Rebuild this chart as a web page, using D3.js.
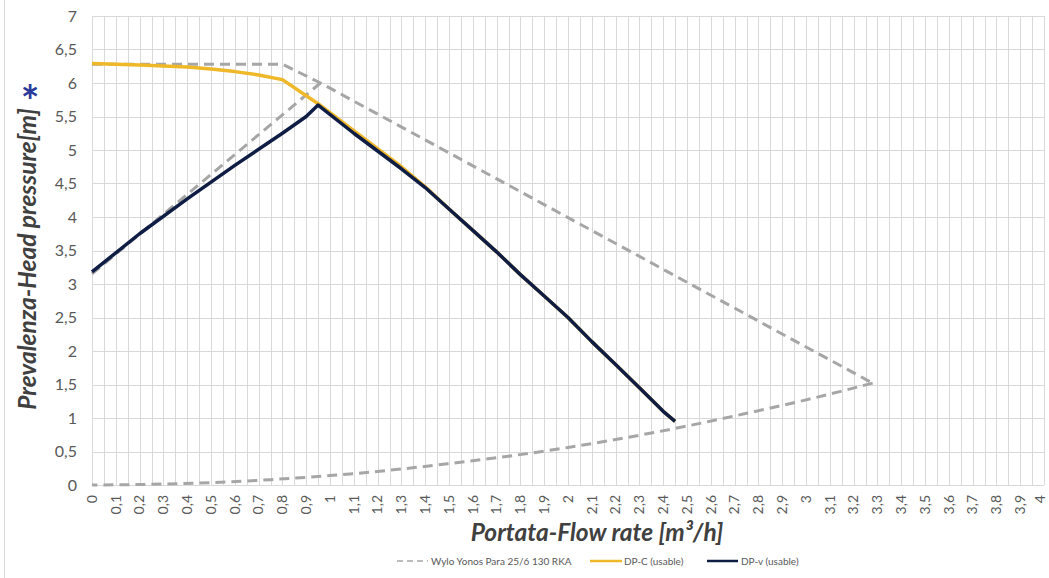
<!DOCTYPE html>
<html><head><meta charset="utf-8">
<script src="https://cdn.jsdelivr.net/npm/d3@7"></script>
<style>
body{margin:0;background:#fff;}
svg{display:block;font-family:Lato,"Open Sans",sans-serif;}
</style>
</head><body>
<svg id="chart" width="1049" height="578"></svg>
<script>
// ---- data ----
const xTickValues = [0,0.1,0.2,0.3,0.4,0.5,0.6,0.7,0.8,0.9,1,1.1,1.2,1.3,1.4,1.5,1.6,1.7,1.8,1.9,2,2.1,2.2,2.3,2.4,2.5,2.6,2.7,2.8,2.9,3,3.1,3.2,3.3,3.4,3.5,3.6,3.7,3.8,3.9,4];
const yTickValues = [0,0.5,1,1.5,2,2.5,3,3.5,4,4.5,5,5.5,6,6.5,7];

// Wylo Yonos Para 25/6 130 RKA (grey dashed) – max curve, min curve, dp-v limit
const pumpMaxX = [0, 0.8, 0.96, 3.28];
const pumpMaxY = [6.28, 6.28, 6.0, 1.52];
const pumpMinX = [3.28, 3.0, 2.75, 2.5, 2.25, 2.0, 1.75, 1.5, 1.25, 1.0, 0.75, 0.5, 0.25, 0];
const pumpMinY = [1.52, 1.27, 1.07, 0.88, 0.71, 0.56, 0.43, 0.32, 0.22, 0.14, 0.08, 0.035, 0.01, 0];
const pumpDpvX = [0, 0.96];
const pumpDpvY = [3.15, 6.0];

// DP-C (usable)
const dpcX = [0, 0.2, 0.4, 0.5, 0.6, 0.7, 0.8, 0.95, 1.3, 1.4, 1.5, 1.6, 1.7, 1.8, 1.9, 2.0, 2.1, 2.2, 2.3, 2.4, 2.45];
const dpcY = [6.29, 6.27, 6.24, 6.21, 6.17, 6.12, 6.05, 5.69, 4.75, 4.45, 4.12, 3.8, 3.48, 3.14, 2.82, 2.5, 2.14, 1.8, 1.45, 1.1, 0.95];

// DP-v (usable)
const dpvX = [0, 0.2, 0.4, 0.6, 0.8, 0.9, 0.95, 1.1, 1.3, 1.4, 1.5, 1.6, 1.7, 1.8, 1.9, 2.0, 2.1, 2.2, 2.3, 2.4, 2.45];
const dpvY = [3.18, 3.75, 4.27, 4.77, 5.25, 5.5, 5.67, 5.25, 4.72, 4.44, 4.12, 3.8, 3.48, 3.14, 2.82, 2.5, 2.14, 1.8, 1.45, 1.1, 0.95];

const legendLabels = ["Wylo Yonos Para 25/6 130 RKA", "DP-C (usable)", "DP-v (usable)"];
const xTitle = "Portata-Flow rate [m³/h]";
const yTitle = "Prevalenza-Head pressure[m]";

// ---- drawing ----
const svg = d3.select("#chart");
const pLeft = 92, pRight = 1044, pTop = 16, pBottom = 485;
const x = d3.scaleLinear().domain([0, 4]).range([pLeft, pRight]);
const y = d3.scaleLinear().domain([0, 7]).range([pBottom, pTop]);
const fmt = v => d3.format("")(v).replace(".", ",");
const grid = "#d9d9d9", txt = "#595959";
const grey = "#a6a6a6", gold = "#efb828", navy = "#0f1d45";

// chart border (left edge visible)
svg.append("line").attr("x1", 4.5).attr("x2", 4.5).attr("y1", 0).attr("y2", 578)
  .attr("stroke", "#d9d9d9").attr("stroke-width", 1);

// vertical gridlines every 0.05
const gx = svg.append("g");
gx.selectAll("line").data(x.ticks(80)).join("line")
  .attr("x1", d => Math.round(x(d)) + 0.5).attr("x2", d => Math.round(x(d)) + 0.5)
  .attr("y1", pTop).attr("y2", pBottom)
  .attr("stroke", grid).attr("stroke-width", 1);
// horizontal gridlines
const gy = svg.append("g");
gy.selectAll("line").data(yTickValues).join("line")
  .attr("x1", pLeft).attr("x2", pRight)
  .attr("y1", d => Math.round(y(d)) + 0.5).attr("y2", d => Math.round(y(d)) + 0.5)
  .attr("stroke", grid).attr("stroke-width", 1);

// y axis labels
const yAxis = d3.axisLeft(y).tickValues(yTickValues).tickFormat(fmt).tickSize(0).tickPadding(15);
const ya = svg.append("g").attr("transform", `translate(${pLeft},0)`).call(yAxis);
ya.select(".domain").remove();
ya.selectAll("text").attr("fill", txt).style("font-size", "16px").style("font-family", "Lato, sans-serif");

// x axis labels (rotated)
const xAxis = d3.axisBottom(x).tickValues(xTickValues).tickFormat(fmt).tickSize(0);
const xa = svg.append("g").attr("transform", `translate(0,${pBottom})`).call(xAxis);
xa.select(".domain").remove();
xa.selectAll("text")
  .attr("fill", txt).style("font-size", "14px").style("font-family", "Lato, sans-serif")
  .attr("transform", "rotate(-90)")
  .attr("text-anchor", "end")
  .attr("x", -10).attr("y", 0)
  .attr("dy", (d, i, n) => i === n.length - 1 ? "0.05em" : "0.3em");

// lines
const lineGen = d3.line().x(d => x(d[0])).y(d => y(d[1]));
const zip = (a, b) => a.map((v, i) => [v, b[i]]);

const greyStyle = sel => sel.attr("fill", "none").attr("stroke", grey).attr("stroke-width", 3)
  .attr("stroke-dasharray", "10,6").attr("stroke-linejoin", "round");
svg.append("path").datum(zip(pumpMaxX, pumpMaxY)).attr("d", lineGen).call(greyStyle);
svg.append("path").datum(zip(pumpMinX, pumpMinY)).attr("d", lineGen.curve(d3.curveMonotoneX)).call(greyStyle);
lineGen.curve(d3.curveLinear);
svg.append("path").datum(zip(pumpDpvX, pumpDpvY)).attr("d", lineGen).call(greyStyle);

svg.append("path").datum(zip(dpcX, dpcY)).attr("d", lineGen)
  .attr("fill", "none").attr("stroke", gold).attr("stroke-width", 3.5).attr("stroke-linejoin", "round");
svg.append("path").datum(zip(dpvX, dpvY)).attr("d", lineGen)
  .attr("fill", "none").attr("stroke", navy).attr("stroke-width", 3.5).attr("stroke-linejoin", "round");

// axis titles
svg.append("text").attr("x", 597).attr("y", 541).attr("text-anchor", "middle")
  .attr("fill", "#404040").style("font-size", "24.5px").style("font-weight", "bold").style("font-style", "italic")
  .text(xTitle);
svg.append("text").attr("transform", "translate(36,259) rotate(-90)").attr("text-anchor", "middle")
  .attr("fill", "#404040").style("font-size", "24.5px").style("font-weight", "bold").style("font-style", "italic")
  .text(yTitle);
svg.append("text").attr("x", 30).attr("y", 117).attr("text-anchor", "middle")
  .attr("fill", "#2b3a9a").style("font-size", "44px").style("font-weight", "bold")
  .text("*");

// legend
const legendItems = [
  {label: legendLabels[0], x1: 397, x2: 428, tx: 431, color: grey, dash: "6,4", w: 1.5},
  {label: legendLabels[1], x1: 590, x2: 622, tx: 624, color: gold, dash: null, w: 2.5},
  {label: legendLabels[2], x1: 707, x2: 738, tx: 741, color: navy, dash: null, w: 2.5}
];
const lg = svg.append("g");
legendItems.forEach(it => {
  const l = lg.append("line").attr("x1", it.x1).attr("x2", it.x2).attr("y1", 561).attr("y2", 561)
    .attr("stroke", it.color).attr("stroke-width", it.w);
  if (it.dash) l.attr("stroke-dasharray", it.dash);
  lg.append("text").attr("x", it.tx).attr("y", 561).attr("dy", "0.35em")
    .attr("fill", txt).style("font-size", "10px").text(it.label);
});
</script>
</body></html>
